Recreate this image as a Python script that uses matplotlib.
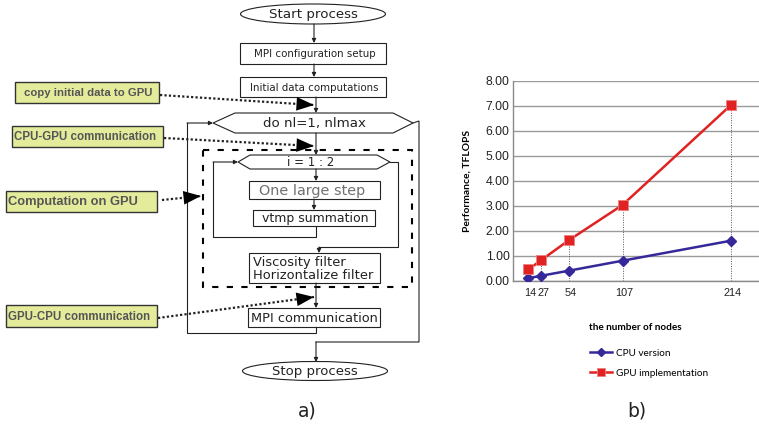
import matplotlib
matplotlib.use('Agg')
import matplotlib.pyplot as plt
import matplotlib.transforms as mtransforms
from matplotlib.patches import Rectangle, Ellipse, Polygon

# chart data (panel b)
nodes = [14, 27, 54, 107, 214]
cpu_tflops = [0.10, 0.20, 0.40, 0.80, 1.60]
gpu_tflops = [0.45, 0.83, 1.62, 3.03, 7.03]
y_ticks = [0, 1, 2, 3, 4, 5, 6, 7, 8]
series_names = ['CPU version', 'GPU implementation']

# flowchart notes (panel a)
note_labels = ['copy initial data to GPU', 'CPU-GPU communication',
               'Computation on GPU', 'GPU-CPU communication']

FLOW_FONT = 'DejaVu Sans'
NOTE_FONT = 'Liberation Sans'
CHART_FONT = 'Lato'
INK = '#222222'

fig = plt.figure(figsize=(7.59, 4.28), dpi=100)

# whole-figure axes in pixel units for the flowchart
fc = fig.add_axes([0, 0, 1, 1])
fc.set_xlim(0, 759)
fc.set_ylim(428, 0)
fc.axis('off')


def box(x0, y0, x1, y1, face='white', edge=INK, lw=0.8):
    fc.add_patch(Rectangle((x0, y0), x1 - x0, y1 - y0, facecolor=face,
                           edgecolor=edge, lw=lw))


def hexagon(xl, xt0, xt1, xr, yt, yb):
    ym = (yt + yb) / 2
    pts = [(xl, ym), (xt0, yt), (xt1, yt), (xr, ym), (xt1, yb), (xt0, yb)]
    fc.add_patch(Polygon(pts, closed=True, facecolor='white',
                         edgecolor=INK, lw=0.8))


def line(xs, ys):
    fc.plot(xs, ys, color=INK, lw=0.8, solid_joinstyle='miter')


def arrow(x0, y0, x1, y1):
    fc.annotate('', xy=(x1, y1), xytext=(x0, y0),
                arrowprops=dict(arrowstyle='-|>', color=INK, lw=0.8,
                                mutation_scale=6, shrinkA=0, shrinkB=0))


def dotted_arrow(x0, y0, x1, y1):
    fc.plot([x0, x1], [y0, y1], color=INK, lw=1.6, ls=(0, (1, 1)))
    fc.annotate('', xy=(x1, y1), xytext=(x1 - (x1 - x0) * 0.01, y1 - (y1 - y0) * 0.01),
                arrowprops=dict(arrowstyle='-|>,head_length=0.9,head_width=0.35',
                                color='black', lw=0, mutation_scale=14,
                                shrinkA=0, shrinkB=0))


def label(x, y, s, size=8, color=INK, ha='center', family=FLOW_FONT, **kw):
    fc.text(x, y + 0.8, s, fontsize=size, color=color, ha=ha, va='center',
            family=family, **kw)


# main flow
fc.add_patch(Ellipse((313, 14), 145, 20, facecolor='white', edgecolor=INK, lw=0.8))
label(313, 14, 'Start process', 9.6)
arrow(314, 24, 314, 43)
box(240, 43, 386, 64)
label(315, 53.5, 'MPI configuration setup', 7.4)
arrow(314, 64, 314, 77)
box(240, 77, 386, 97)
label(314, 87, 'Initial data computations', 7.4)
arrow(316, 97, 316, 113)

hexagon(213, 235, 393, 413, 113, 133)
label(314, 123, 'do nl=1, nlmax', 9.6)

# outer loop
line([316, 316, 187, 187], [327, 333, 333, 123])
arrow(187, 123, 213, 123)
line([413, 419, 419, 316], [123, 121, 342, 342])
arrow(316, 342, 316, 362)
arrow(316, 133, 316, 155)

# GPU region
fc.add_patch(Rectangle((203, 150), 209, 137, fill=False, edgecolor='black',
                       lw=1.5, ls=(0, (3, 4))))

hexagon(238, 250, 377, 390, 155, 169)
label(311, 162, 'i = 1 : 2', 8.5)
line([316, 316, 213, 213], [226, 237, 237, 162])
arrow(213, 162, 238, 162)
line([390, 398, 398, 319], [162, 162, 247, 247])
arrow(319, 247, 319, 253)
arrow(316, 169, 316, 181)

box(249, 181, 380, 199)
label(312, 190, 'One large step', 10.4, color='#707070')
arrow(314, 199, 314, 210)
box(253, 210, 375, 226)
label(315, 218, 'vtmp summation', 9)

box(249, 253, 380, 283)
label(253, 261.5, 'Viscosity filter', 9.4, ha='left')
label(253, 274.5, 'Horizontalize filter', 9.4, ha='left')
arrow(316, 283, 316, 308)

box(248, 308, 380, 327)
label(314, 317.5, 'MPI communication', 9.3)

fc.add_patch(Ellipse((315, 371), 145, 19, facecolor='white', edgecolor=INK, lw=0.8))
label(315, 371, 'Stop process', 9.5)

# side notes with dotted pointers
note_boxes = [(15, 82, 159, 103), (12, 126, 163, 147),
              (6, 191, 157, 212), (6, 305, 157, 327)]
note_text_x = [88, 14, 8, 8]
note_ha = ['center', 'left', 'left', 'left']
note_size = [8.2, 8.3, 9.3, 8.3]
for (x0, y0, x1, y1), txt, tx, ha, sz in zip(note_boxes, note_labels, note_text_x,
                                             note_ha, note_size):
    box(x0, y0, x1, y1, face='#e4ec9c', edge='#333333', lw=1.0)
    label(tx, (y0 + y1) / 2, txt, sz, color='#555555', ha=ha, weight='bold',
          family=NOTE_FONT)

dotted_arrow(160, 95, 314, 105)
dotted_arrow(164, 138, 314, 146)
dotted_arrow(162, 200, 201, 196)
dotted_arrow(158, 318, 314, 297)

label(307, 410, 'a)', 13.5)
label(637, 410, 'b)', 13.5)

# panel b chart
ax = fig.add_axes([513 / 759, 147.3 / 428, 246 / 759, 200 / 428])
ax.set_xlim(-1.1, 241.6)
ax.set_ylim(0, 8)
ax.vlines(nodes, 0, gpu_tflops, colors='#555555', linestyles=(0, (1, 1.5)),
          lw=0.7, zorder=2)
cpu_line, = ax.plot(nodes, cpu_tflops, color='#35289a', lw=1.8, marker='D',
                    markersize=5, zorder=3)
gpu_line, = ax.plot(nodes, gpu_tflops, color='#e02222', lw=1.8, marker='s',
                    markersize=7, markeredgecolor='#ef8080', markeredgewidth=0.6,
                    zorder=3)

ax.set_yticks(y_ticks)
ax.set_yticklabels([f'{v:.2f}' for v in y_ticks], family=NOTE_FONT, fontsize=8.8)
ax.set_xticks(nodes)
ax.set_xticklabels([str(n) for n in nodes], family=NOTE_FONT, fontsize=7.8)
ax.tick_params(length=0, colors='#222222')
ax.tick_params(axis='y', pad=2.5)
ax.tick_params(axis='x', pad=5)
shift = mtransforms.ScaledTranslation(2 / 100, 0, fig.dpi_scale_trans)
for tl in ax.xaxis.get_majorticklabels():
    tl.set_transform(tl.get_transform() + shift)
ax.grid(axis='y', color='#9a9a9a', lw=1)
ax.set_axisbelow(True)
for side in ['top', 'right']:
    ax.spines[side].set_visible(False)
for side in ['left', 'bottom']:
    ax.spines[side].set_color('#8a8a8a')
    ax.spines[side].set_linewidth(1)

fig.text(467 / 759, 1 - 181 / 428, 'Performance, TFLOPS', rotation=90,
         ha='center', va='center', fontsize=7.4, weight='bold', family=CHART_FONT)
fig.text(635 / 759, 1 - 328 / 428, 'the number of nodes', ha='center',
         va='center', fontsize=7.2, weight='bold', family=CHART_FONT)

fig.legend([cpu_line, gpu_line], series_names, loc='center left',
           bbox_to_anchor=(590 / 759, 1 - 363 / 428), frameon=False,
           prop={'family': CHART_FONT, 'size': 7.2}, handlelength=2.2,
           handletextpad=0.4, labelspacing=1.1, borderpad=0, borderaxespad=0,
           markerscale=0.8)

fig.savefig('out.png', dpi=100)
